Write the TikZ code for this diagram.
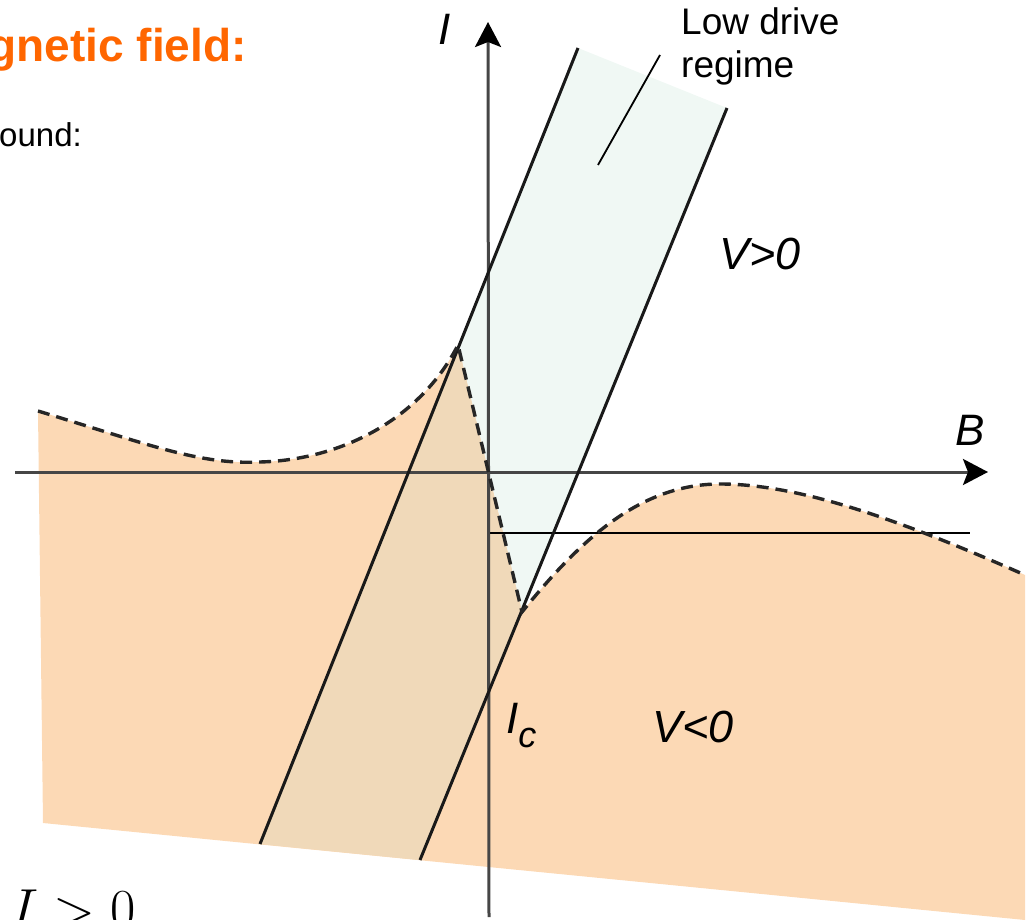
\RequirePackage{fix-cm}
\documentclass[tikz,border=0pt]{standalone}
\usepackage{fontspec}
\setmainfont{Liberation Sans}
\usetikzlibrary{arrows.meta}
\definecolor{orangefill}{RGB}{252,217,181}
\definecolor{tanfill}{RGB}{240,217,185}
\definecolor{mintfill}{RGB}{240,248,244}
\definecolor{titleorange}{RGB}{255,102,0}
\definecolor{axisgray}{RGB}{70,70,70}
\newcommand\orangeregion{(38,411) .. controls (150,445) and (200,465) .. (260,462) .. controls (340,460) and (420,420) .. (458,345) -- (522,612) .. controls (580,540) and (640,484) .. (720,484) .. controls (800,484) and (900,520) .. (1025,575) -- (1025,920) -- (43,823) -- cycle}
\tikzset{
  axisline/.style={draw=axisgray, line width=3pt, -{Stealth[length=25pt,width=26pt,inset=5pt,color=black]}},
  bandline/.style={draw=black!90, line width=3pt},
  boundary/.style={draw=black!85, line width=3.4pt, dash pattern=on 12pt off 7pt},
  thinline/.style={draw=black, line width=1.8pt},
  axislabel/.style={inner sep=0pt, font=\fontsize{44}{48}\selectfont\itshape},
  regionlabel/.style={inner sep=0pt, font=\fontsize{45}{50}\selectfont\itshape},
}
\begin{document}
\begin{tikzpicture}[x=1pt,y=-1pt]
\useasboundingbox (0,0) rectangle (1029,920);
% key points
\coordinate (L1top) at (578,48);
\coordinate (L1bot) at (260,844);
\coordinate (L2top) at (727,108);
\coordinate (L2bot) at (420,860);
\coordinate (Itop) at (488,22);
\coordinate (Ibot) at (489,917);
\coordinate (Bleft) at (15,472);
\coordinate (Bright) at (988,472);
\coordinate (Hleft) at (488,533);
\coordinate (Hright) at (970,533);
\coordinate (ptrA) at (598,165);
\coordinate (ptrB) at (660,55);
% low drive band
\fill[mintfill] (L1top) -- (L2top) -- (L2bot) -- (L1bot) -- cycle;
% V<0 region
\fill[orangefill] \orangeregion;
\begin{scope}
  \clip (L1top) -- (L2top) -- (L2bot) -- (L1bot) -- cycle;
  \fill[tanfill] \orangeregion;
\end{scope}
% lines
\draw[thinline] (Hleft) -- (Hright);
\draw[axisline] (Bleft) -- (Bright);
\draw[axisline] (Ibot) -- (Itop);
\draw[bandline] (L1top) -- (L1bot);
\draw[bandline] (L2top) -- (L2bot);
\draw[boundary] (38,411) .. controls (150,445) and (200,465) .. (260,462) .. controls (340,460) and (420,420) .. (458,345) -- (522,612) .. controls (580,540) and (640,484) .. (720,484) .. controls (800,484) and (900,520) .. (1025,575);
\draw[thinline] (ptrA) -- (ptrB);
% labels
\node[axislabel, anchor=base] (Ilab) at (445,45) {I};
\node[axislabel, anchor=base] (Blab) at (970,445) {B};
\node[regionlabel, anchor=base] (Vpos) at (760,270) {V>0};
\node[regionlabel, anchor=base] (Vneg) at (693,742) {V<0};
\node[axislabel, anchor=base west] (Ic) at (506,733) {I\raisebox{-14pt}{\fontsize{36}{36}\selectfont c}};
\node[inner sep=0pt, anchor=base west, align=left, font=\fontsize{37}{43}\selectfont] (low) at (681,78) {Low drive\\regime};
\node[inner sep=0pt, anchor=base east, text=titleorange, font=\fontsize{46}{50}\selectfont\bfseries] (title) at (247,62) {gnetic field:};
\node[inner sep=0pt, anchor=base east, font=\fontsize{33}{38}\selectfont] (bound) at (82,147) {ound:};
\node[inner sep=0pt, anchor=base west, font=\fontsize{55}{60}\selectfont] (cond) at (10,927) {$I > 0$};
\end{tikzpicture}
\end{document}
